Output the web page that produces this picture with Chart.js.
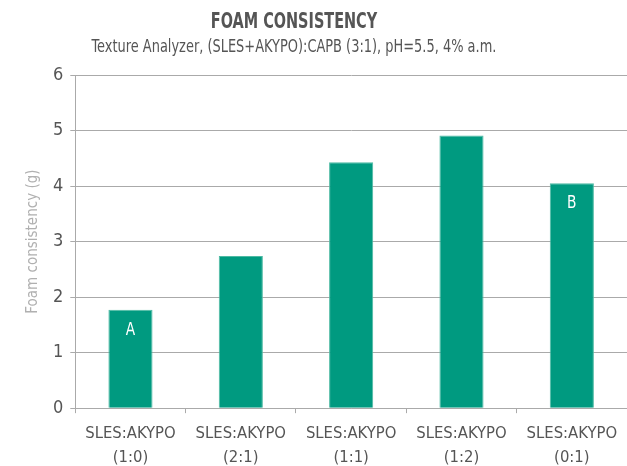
<!DOCTYPE html>
<html lang="en">
<head>
<meta charset="UTF-8">
<title>Foam Consistency</title>
<script src="https://cdn.jsdelivr.net/npm/chart.js"></script>
<style>
    body { margin: 0; background: #fff; }
    #wrap { width: 627px; height: 466px; }
</style>
</head>
<body>
<div id="wrap"><canvas id="foamChart" width="627" height="466"></canvas></div>
<script>
const categories = [
    ["SLES:AKYPO", "(1:0)"],
    ["SLES:AKYPO", "(2:1)"],
    ["SLES:AKYPO", "(1:1)"],
    ["SLES:AKYPO", "(1:2)"],
    ["SLES:AKYPO", "(0:1)"]
];
const foamValues = [1.77, 2.74, 4.43, 4.91, 4.05];
const barLetters = ["A", "", "", "", "B"];
const chartTitle = "FOAM CONSISTENCY";
const chartSubtitle = "Texture Analyzer, (SLES+AKYPO):CAPB (3:1), pH=5.5, 4% a.m.";

const FONT = "'DejaVu Sans Condensed', 'Liberation Sans Narrow', 'Liberation Sans', sans-serif";

// titles drawn by hand: squeezed sideways to look like the narrow original face,
// and centred a bit left of the canvas middle like the source
function squeezedText(ctx, text, x, y, sx) {
    ctx.save();
    ctx.translate(x, y);
    ctx.scale(sx, 1);
    ctx.fillText(text, 0, 0);
    ctx.restore();
}

const titlePlugin = {
    id: "titles",
    afterDraw(chart) {
        const ctx = chart.ctx;
        ctx.save();
        ctx.fillStyle = "#555";
        ctx.textAlign = "center";
        ctx.textBaseline = "middle";
        ctx.font = "bold 22px " + FONT;
        squeezedText(ctx, chartTitle, 294, 22, 0.73);
        ctx.font = "18px " + FONT;
        squeezedText(ctx, chartSubtitle, 294, 47, 0.8);
        ctx.restore();
    }
};

// letters written inside the top of some bars
const letterPlugin = {
    id: "letters",
    afterDatasetsDraw(chart) {
        const ctx = chart.ctx;
        const meta = chart.getDatasetMeta(0);
        ctx.save();
        ctx.fillStyle = "#fff";
        ctx.textAlign = "center";
        ctx.textBaseline = "middle";
        ctx.font = "18px " + FONT;
        meta.data.forEach((bar, i) => {
            if (barLetters[i]) squeezedText(ctx, barLetters[i], bar.x, bar.y + 20, 0.85);
        });
        ctx.restore();
    }
};

new Chart(document.getElementById("foamChart"), {
    type: "bar",
    data: {
        labels: categories,
        datasets: [{
            data: foamValues,
            backgroundColor: "#009a80",
            borderColor: "#4dbaa3",
            borderWidth: 1,
            barPercentage: 0.4,
            categoryPercentage: 1.0
        }]
    },
    options: {
        responsive: false,
        animation: false,
        layout: { padding: { top: 75, right: 0, bottom: -13, left: 24 } },
        plugins: {
            legend: { display: false },
            tooltip: { enabled: false }
        },
        scales: {
            x: {
                grid: {
                    offset: true,
                    drawOnChartArea: false,
                    drawTicks: true,
                    tickLength: 5,
                    color: "#aaa"
                },
                border: { color: "#aaa", width: 1 },
                ticks: {
                    color: "#555",
                    font: { family: FONT, size: 16.5, lineHeight: 1.45 },
                    padding: 9,
                    maxRotation: 0,
                    autoSkip: false
                }
            },
            y: {
                min: 0,
                max: 6,
                ticks: {
                    stepSize: 1,
                    color: "#555",
                    font: { family: FONT, size: 18 },
                    padding: 7
                },
                grid: { color: "#aaa", tickLength: 5 },
                border: { color: "#aaa", width: 1 },
                title: {
                    display: true,
                    text: "Foam consistency (g)",
                    color: "#b0b0b0",
                    font: { family: FONT, size: 15 },
                    padding: { top: 0, bottom: 4 }
                }
            }
        }
    },
    plugins: [titlePlugin, letterPlugin]
});
</script>
</body>
</html>
